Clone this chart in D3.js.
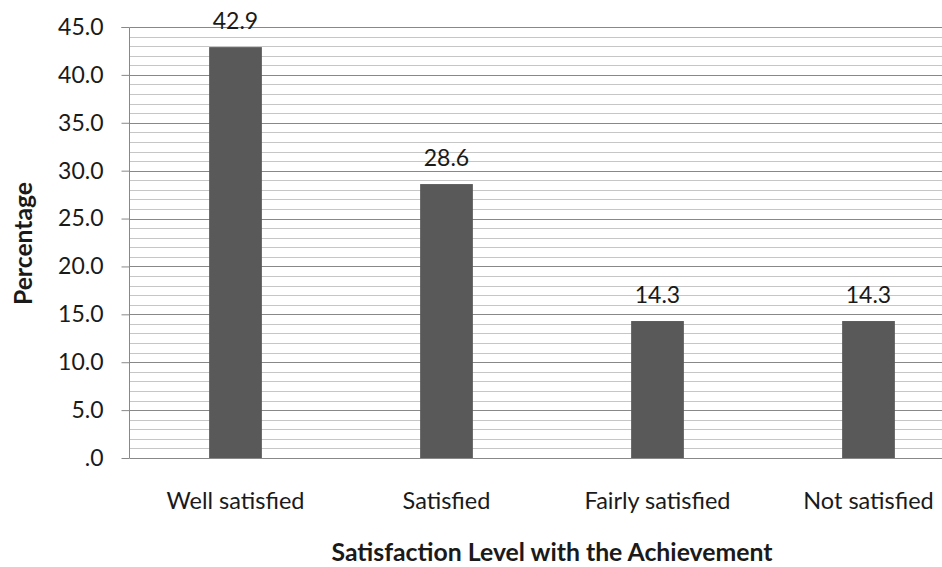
<!DOCTYPE html>
<html>
<head>
<meta charset="utf-8">
<script src="https://cdn.jsdelivr.net/npm/d3@7"></script>
<style>
  html, body { margin: 0; padding: 0; background: #fff; }
  svg { display: block; }
  text { font-family: Lato, "Open Sans", sans-serif; fill: #1a1a1a; }
</style>
</head>
<body>
<svg id="chart" width="942" height="567"></svg>
<script>
// Satisfaction level with the achievement (percent of respondents)
const categories = ["Well satisfied", "Satisfied", "Fairly satisfied", "Not satisfied"];
const values = [42.9, 28.6, 14.3, 14.3];
const majorTicks = [0, 5, 10, 15, 20, 25, 30, 35, 40, 45];
const minorTicks = d3.range(0, 46, 1);
const xTitle = "Satisfaction Level with the Achievement";
const yTitle = "Percentage";

(function draw() {
  const svg = d3.select("#chart");
  const plotLeft = 130, plotRight = 974, plotTop = 27, plotBottom = 458;
  const font = "Lato, 'Open Sans', sans-serif";
  const ink = "#1a1a1a";

  const x = d3.scaleBand().domain(categories).range([plotLeft, plotRight]).paddingInner(0.75).paddingOuter(0.375);
  const y = d3.scaleLinear().domain([0, 45]).range([plotBottom, plotTop]);

  const fmt = v => v === 0 ? ".0" : d3.format(".1f")(v);

  // minor gridlines (every 1.0)
  svg.append("g").selectAll("line").data(minorTicks.filter(v => v % 5 !== 0)).join("line")
    .attr("x1", plotLeft).attr("x2", plotRight)
    .attr("y1", d => Math.round(y(d)) + 0.5).attr("y2", d => Math.round(y(d)) + 0.5)
    .attr("stroke", "#c6c6c6").attr("stroke-width", 1);

  // major gridlines (every 5.0)
  svg.append("g").selectAll("line").data(majorTicks.filter(v => v !== 0)).join("line")
    .attr("x1", plotLeft).attr("x2", plotRight)
    .attr("y1", d => Math.round(y(d)) + 0.5).attr("y2", d => Math.round(y(d)) + 0.5)
    .attr("stroke", "#888888").attr("stroke-width", 1);

  // bars
  svg.append("g").selectAll("rect").data(categories).join("rect")
    .attr("x", d => x(d))
    .attr("width", x.bandwidth())
    .attr("y", (d, i) => y(values[i]))
    .attr("height", (d, i) => y(0) - y(values[i]))
    .attr("fill", "#595959");

  // value labels
  svg.append("g").selectAll("text").data(categories).join("text")
    .attr("x", d => x(d) + x.bandwidth() / 2)
    .attr("y", (d, i) => y(values[i]) - 18)
    .attr("text-anchor", "middle")
    .attr("font-size", 23)
    .text((d, i) => d3.format(".1f")(values[i]));

  // y axis
  const yAxis = svg.append("g")
    .attr("transform", `translate(${plotLeft - 0.5},0)`)
    .call(d3.axisLeft(y).tickValues(majorTicks).tickFormat(fmt).tickSize(8).tickPadding(18));
  yAxis.select(".domain").attr("stroke", "#888888").attr("d", `M-8,${Math.round(y(45)) + 0.5}H0V${plotBottom + 0.5}`);
  yAxis.selectAll(".tick line").attr("stroke", "#888888");
  yAxis.selectAll(".tick text").attr("font-size", 23).attr("font-family", font).attr("fill", ink);

  // x axis
  const xAxis = svg.append("g")
    .attr("transform", `translate(0,${Math.round(plotBottom) + 0.5})`)
    .call(d3.axisBottom(x).tickSize(0));
  xAxis.select(".domain").attr("stroke", "#888888").attr("d", `M${plotLeft},0H${plotRight}`);
  xAxis.selectAll(".tick text")
    .attr("dy", null).attr("y", 50)
    .attr("font-size", 23.5).attr("font-family", font).attr("fill", ink);

  // axis titles
  svg.append("text")
    .attr("x", (plotLeft + plotRight) / 2).attr("y", 561)
    .attr("text-anchor", "middle").attr("font-size", 24).attr("font-weight", "bold")
    .attr("textLength", 441).attr("lengthAdjust", "spacingAndGlyphs")
    .text(xTitle);

  svg.append("text")
    .attr("transform", "translate(32,243.5) rotate(-90)")
    .attr("text-anchor", "middle").attr("font-size", 24).attr("font-weight", "bold")
    .attr("textLength", 123).attr("lengthAdjust", "spacingAndGlyphs")
    .text(yTitle);
})();
</script>
</body>
</html>
